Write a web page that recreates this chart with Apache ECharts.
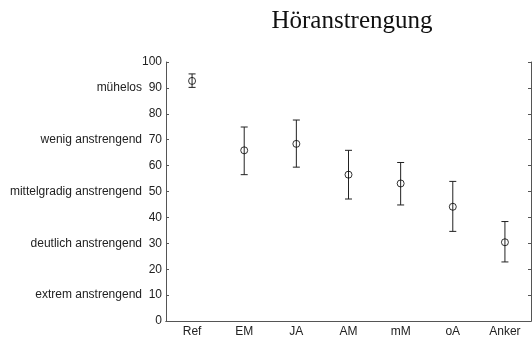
<!DOCTYPE html>
<html>
<head>
	<meta charset="utf-8" />
	<title>Höranstrengung</title>
	<script src="https://cdn.jsdelivr.net/npm/echarts@6/dist/echarts.min.js"></script>
	<style>
		* { margin: 0; padding: 0; }
		html, body { width: 532px; height: 338px; background: #fff; }
		#main { width: 532px; height: 338px; }
	</style>
</head>
<body>
	<div id="main"></div>
	<script>
		// Daten
		var categories = ['Ref', 'EM', 'JA', 'AM', 'mM', 'oA', 'Anker'];
		var means = [92.7, 65.9, 68.4, 56.5, 53.1, 44.1, 30.4];
		var upper = [95.4, 74.9, 77.6, 65.9, 61.2, 53.9, 38.4];
		var lower = [90.2, 56.5, 59.4, 47.1, 44.8, 34.6, 22.8];
		var yTicks = [0, 10, 20, 30, 40, 50, 60, 70, 80, 90, 100];
		var levelNames = {
			10: 'extrem anstrengend',
			30: 'deutlich anstrengend',
			50: 'mittelgradig anstrengend',
			70: 'wenig anstrengend',
			90: 'mühelos'
		};

		var errData = categories.map(function (c, i) { return [i, lower[i], upper[i]]; });

		var axisColor = '#555';
		var chart = echarts.init(document.getElementById('main'));
		var option = {
			animation: false,
			graphic: [{
				type: 'text',
				x: 352,
				y: 21,
				style: {
					text: 'Höranstrengung',
					font: 'normal 25px "Liberation Serif"',
					fill: '#111',
					textAlign: 'center',
					textVerticalAlign: 'middle'
				}
			}],
			grid: { left: 166, right: 1, top: 62, bottom: 14 },
			xAxis: [{
				type: 'category',
				data: categories,
				boundaryGap: true,
				axisLine: { lineStyle: { color: axisColor } },
				axisTick: { inside: true, alignWithLabel: true, length: 3, lineStyle: { color: axisColor } },
				axisLabel: { color: '#222', fontFamily: 'Liberation Sans', fontSize: 12, margin: 5 },
				splitLine: { show: false }
			}, {
				type: 'category',
				position: 'top',
				data: categories,
				boundaryGap: true,
				axisLine: { lineStyle: { color: axisColor } },
				axisTick: { inside: true, alignWithLabel: true, length: 3, lineStyle: { color: axisColor } },
				axisLabel: { show: false }
			}],
			yAxis: [{
				type: 'value',
				min: yTicks[0],
				max: yTicks[yTicks.length - 1],
				interval: 10,
				axisLine: { show: true, lineStyle: { color: axisColor } },
				axisTick: { show: true, inside: true, length: 3, lineStyle: { color: axisColor } },
				splitLine: { show: false },
				axisLabel: {
					color: '#222',
					fontFamily: 'Liberation Sans',
					fontSize: 12,
					margin: 4,
					formatter: function (v) {
						return levelNames[v] ? levelNames[v] + '  ' + v : String(v);
					}
				}
			}, {
				type: 'value',
				position: 'right',
				min: yTicks[0],
				max: yTicks[yTicks.length - 1],
				interval: 10,
				axisLine: { show: true, lineStyle: { color: axisColor } },
				axisTick: { show: true, inside: true, length: 3, lineStyle: { color: axisColor } },
				splitLine: { show: false },
				axisLabel: { show: false }
			}],
			series: [{
				type: 'custom',
				name: 'Fehler',
				data: errData,
				renderItem: function (params, api) {
					var x = api.value(0);
					var lo = api.coord([x, api.value(1)]);
					var hi = api.coord([x, api.value(2)]);
					var w = 3.5;
					var style = { stroke: '#222', lineWidth: 1 };
					return {
						type: 'group',
						children: [
							{ type: 'line', shape: { x1: hi[0], y1: hi[1], x2: lo[0], y2: lo[1] }, style: style },
							{ type: 'line', shape: { x1: hi[0] - w, y1: hi[1], x2: hi[0] + w, y2: hi[1] }, style: style },
							{ type: 'line', shape: { x1: lo[0] - w, y1: lo[1], x2: lo[0] + w, y2: lo[1] }, style: style }
						]
					};
				},
				z: 2
			}, {
				type: 'scatter',
				name: 'Mittelwert',
				data: means,
				symbol: 'circle',
				symbolSize: 7,
				itemStyle: { color: 'rgba(0,0,0,0)', borderColor: '#000', borderWidth: 1 },
				z: 3
			}]
		};
		chart.setOption(option);
	</script>
</body>
</html>
